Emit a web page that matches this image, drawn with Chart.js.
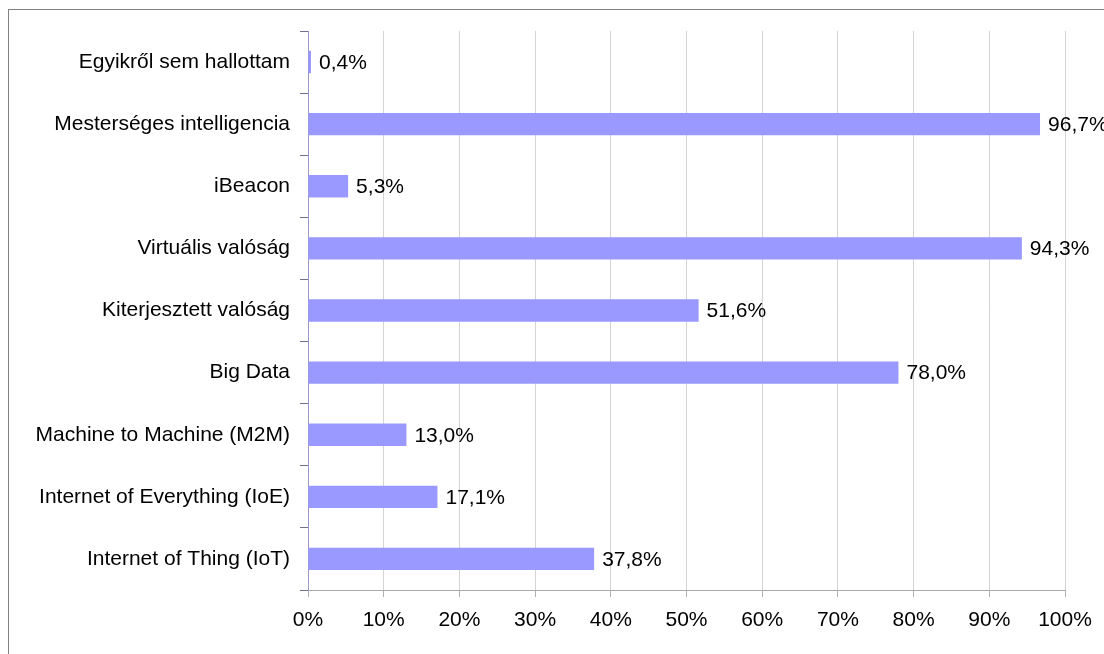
<!DOCTYPE html>
<html>
<head>
<meta charset="utf-8">
<script src="https://cdn.jsdelivr.net/npm/chart.js@4/dist/chart.umd.min.js"></script>
<style>
  html, body { margin: 0; padding: 0; background: #fff; }
  #wrap { position: relative; width: 1104px; height: 654px; overflow: hidden; }
  #frame { position: absolute; left: 8px; top: 9px; width: 1200px; height: 700px;
           border-top: 1px solid #808080; border-left: 1px solid #808080; }
  canvas { position: absolute; left: 0; top: 0; }
</style>
</head>
<body>
<div id="wrap">
  <div id="frame"></div>
  <canvas id="chart" width="1104" height="654"></canvas>
</div>
<script>
const categories = [
    'Egyikről sem hallottam',
    'Mesterséges intelligencia',
    'iBeacon',
    'Virtuális valóság',
    'Kiterjesztett valóság',
    'Big Data',
    'Machine to Machine (M2M)',
    'Internet of Everything (IoE)',
    'Internet of Thing (IoT)'
];
const percents = [0.4, 96.7, 5.3, 94.3, 51.6, 78.0, 13.0, 17.1, 37.8];
const xTicks = [0, 10, 20, 30, 40, 50, 60, 70, 80, 90, 100];

const FONT = '"Liberation Sans", Arial, sans-serif';
const SIZE = 21;

// value labels to the right of each bar
const barLabels = {
    id: 'barLabels',
    afterDatasetsDraw(chart) {
        const ctx = chart.ctx;
        const meta = chart.getDatasetMeta(0);
        ctx.save();
        ctx.font = SIZE + 'px ' + FONT;
        ctx.fillStyle = '#000';
        ctx.textBaseline = 'middle';
        ctx.textAlign = 'left';
        meta.data.forEach((bar, i) => {
            const txt = percents[i].toFixed(1).replace('.', ',') + '%';
            ctx.fillText(txt, bar.x + 8, bar.y + 1);
        });
        ctx.restore();
    }
};

new Chart(document.getElementById('chart'), {
    type: 'bar',
    data: {
        labels: categories,
        datasets: [{
            data: percents,
            backgroundColor: '#9999ff',
            borderWidth: 0,
            barPercentage: 0.36,
            categoryPercentage: 1
        }]
    },
    options: {
        indexAxis: 'y',
        responsive: false,
        animation: false,
        layout: { padding: { left: 0, right: 39, top: 31, bottom: 0 } },
        plugins: { legend: { display: false }, tooltip: { enabled: false } },
        scales: {
            x: {
                min: 0,
                max: 100,
                afterBuildTicks: (scale) => { scale.ticks = xTicks.map(v => ({ value: v })); },
                afterFit: (scale) => { scale.height = 64; },
                grid: { color: '#d4d4d4', tickColor: '#b0b0b0', tickLength: 7, lineWidth: 1 },
                border: { color: '#a8a8a8' },
                ticks: {
                    color: '#000',
                    font: { family: FONT, size: SIZE },
                    padding: 11,
                    maxRotation: 0,
                    autoSkip: false,
                    callback: (v) => v + '%'
                }
            },
            y: {
                afterFit: (scale) => { scale.width = 308; },
                grid: { offset: true, drawOnChartArea: false, tickLength: 8, tickColor: '#707090' },
                border: { color: '#9a9ac4' },
                ticks: {
                    color: '#000',
                    font: { family: FONT, size: SIZE },
                    padding: 10,
                    autoSkip: false
                }
            }
        }
    },
    plugins: [barLabels]
});
</script>
</body>
</html>
